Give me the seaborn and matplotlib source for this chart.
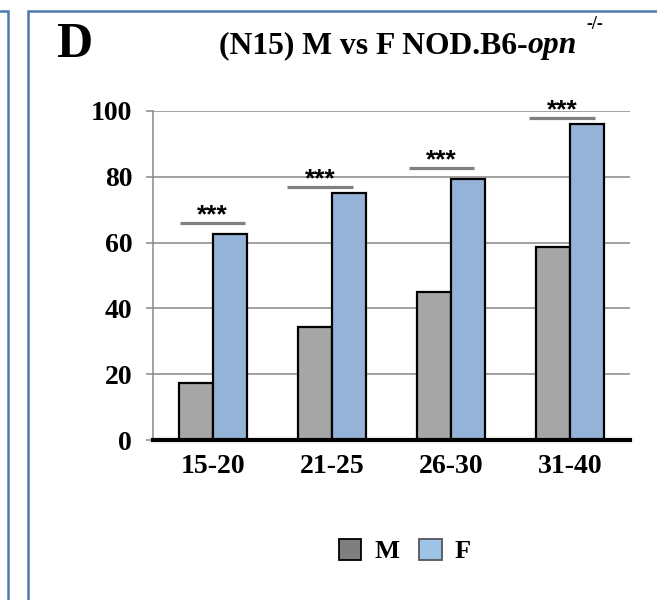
import matplotlib
matplotlib.use('Agg')
import matplotlib.pyplot as plt
import seaborn as sns
import pandas as pd
from matplotlib.lines import Line2D
from matplotlib.patches import Patch

# ---- data ----
categories = ['15-20', '21-25', '26-30', '31-40']
series_names = ['M', 'F']
male = [17.3, 34.3, 45.0, 58.7]
female = [62.6, 75.1, 79.3, 96.0]
sig_heights = [66.0, 77.0, 82.7, 97.9]
sig_labels = ['***', '***', '***', '***']
y_ticks = [0, 20, 40, 60, 80, 100]

# ---- style ----
W, H = 657, 600
sns.set_theme(style='white')
plt.rcParams['font.family'] = ['Liberation Serif', 'DejaVu Serif']
plt.rcParams['font.weight'] = 'bold'
for k in ['text.color', 'axes.labelcolor', 'xtick.labelcolor', 'ytick.labelcolor']:
    plt.rcParams[k] = 'black'

sig_shift = [0.0, -0.10, -0.08, -0.07]

df = pd.DataFrame({
    'Age': categories * 2,
    'Sex': [series_names[0]] * len(male) + [series_names[1]] * len(female),
    'Value': male + female,
})

fig = plt.figure(figsize=(W / 100, H / 100), dpi=100)
ax = fig.add_axes([153 / W, 1 - 440 / H, 477 / W, 329 / H])

bar_colors = {'M': '#A6A6A6', 'F': '#95B3D7'}
sns.barplot(data=df, x='Age', y='Value', hue='Sex', order=categories,
            hue_order=series_names, palette=bar_colors, saturation=1,
            edgecolor='black', linewidth=1.6, width=0.57, gap=0,
            errorbar=None, legend=False, ax=ax, zorder=3)

ax.set_xlim(-0.5, len(categories) - 0.5)
ax.set_ylim(0, 100)
ax.set_yticks(y_ticks)
ax.set_xlabel('')
ax.set_ylabel('')
ax.set_axisbelow(True)
ax.yaxis.grid(True, color='#878787', linewidth=1.1)
ax.xaxis.grid(False)
for s in ['top', 'right']:
    ax.spines[s].set_visible(False)
ax.spines['left'].set_color('#878787')
ax.spines['left'].set_linewidth(1.1)
ax.spines['bottom'].set_color('black')
ax.spines['bottom'].set_linewidth(3.0)
ax.spines['bottom'].set_zorder(5)
ax.tick_params(axis='y', length=5, width=1.1, color='#878787', pad=10,
               labelsize=20, left=True, labelcolor='black')
ax.tick_params(axis='x', length=0, pad=10, labelsize=20, labelcolor='black')
for lbl in ax.get_xticklabels() + ax.get_yticklabels():
    lbl.set_fontweight('bold')

# significance markers
for i, (h, lab, sh) in enumerate(zip(sig_heights, sig_labels, sig_shift)):
    x0, x1 = i + sh - 0.273, i + sh + 0.273
    ax.plot([x0, x1], [h, h], color='#808080', lw=2.3, solid_capstyle='butt',
            clip_on=False, zorder=4)
    ax.annotate(lab, xy=((x0 + x1) / 2, h), xytext=(0, 0.5),
                textcoords='offset points', ha='center', va='baseline',
                fontsize=19, family=['Liberation Sans', 'DejaVu Sans'],
                fontweight='bold', color='black', annotation_clip=False)

# legend
handles = [Patch(facecolor='#7F7F7F', edgecolor='black', lw=1.3),
           Patch(facecolor='#9DC3E6', edgecolor='#555555', lw=1.3)]
leg = fig.legend(handles, series_names, loc='center',
                 bbox_to_anchor=(405 / W, 1 - 551 / H), ncol=2, frameon=False,
                 prop={'weight': 'bold', 'size': 19, 'family': 'Liberation Serif'},
                 handlelength=0.85, handleheight=0.85, handletextpad=0.5,
                 columnspacing=0.75)
for t in leg.get_texts():
    t.set_color('black')

# panel borders
blue = '#4A7AB0'
fig.add_artist(Line2D([0, 7.5 / W, 7.5 / W], [1 - 11 / H, 1 - 11 / H, 0],
                      transform=fig.transFigure, color=blue, lw=1.8,
                      solid_joinstyle='miter'))
fig.add_artist(Line2D([27.5 / W, 27.5 / W, 1], [0, 1 - 11 / H, 1 - 11 / H],
                      transform=fig.transFigure, color=blue, lw=1.8,
                      solid_joinstyle='miter'))

# titles
fig.text(56 / W, 1 - 57 / H, 'D', fontsize=36, fontweight='bold',
         va='baseline', ha='left', color='black')
renderer = fig.canvas.get_renderer()
t1 = fig.text(219 / W, 1 - 53 / H, '(N15) M vs F NOD.B6-', fontsize=22.8,
              fontweight='bold', va='baseline', ha='left', color='black')
bb = t1.get_window_extent(renderer)
t2 = fig.text(bb.x1 / fig.bbox.width, 1 - 53 / H, 'opn', fontsize=22.8,
              fontweight='bold', style='italic', va='baseline', ha='left',
              color='black')
bb2 = t2.get_window_extent(renderer)
fig.text(bb2.x1 / fig.bbox.width + 9 / W, 1 - 29 / H, '-/-', fontsize=13,
         fontweight='bold', va='baseline', ha='left', color='black')

fig.savefig('out.png', dpi=100)
